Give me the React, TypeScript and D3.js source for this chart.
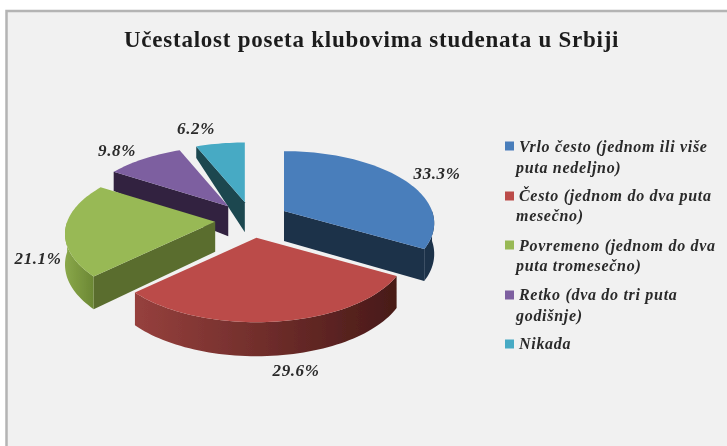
import React from "react";
import * as d3 from "d3";

const WIDTH = 727;
const HEIGHT = 446;
const TITLE = "Učestalost poseta klubovima studenata u Srbiji";
const shares = [33.3, 29.6, 21.1, 9.8, 6.2];
const shareLabels = ["33.3%", "29.6%", "21.1%", "9.8%", "6.2%"];
const legendLines = [
  ["Vrlo često (jednom ili više", "puta nedeljno)"],
  ["Često (jednom do dva puta", "mesečno)"],
  ["Povremeno (jednom do dva", "puta tromesečno)"],
  ["Retko (dva do tri puta", "godišnje)"],
  ["Nikada"],
];
const topColors = ["#4a7ebb", "#bb4c49", "#98b954", "#7d5fa0", "#46aac4"];
const faceColors = ["#1b3049", "#4a1a18", "#5a6d2f", "#322440", "#1a4650"];
const wallFrom = ["#1b3049", "#96403d", "#8aa84a", "#322440", "#1a4650"];
const wallTo = ["#1b3049", "#481a18", "#6b8734", "#322440", "#1a4650"];
const labelAnchors = [
  [437, 179],
  [296, 376],
  [38, 264],
  [117, 156],
  [196, 134],
];
const legendBaselines = [[152, 173], [201, 221], [251, 271], [300, 321], [349]];
const legendMarkCentres = [146, 196, 245, 295, 344];

const cx = 252;
const cy = 220;
const spreadX = 37;
const spreadY = 18;
const radiusX = 148;
const radiusY = 70;
const persp = 0.17;
const depth = d3.scaleLinear().domain([-1, 0, 1]).range([10, 30, 34]);
const pie = d3.pie<number>().sort(null).value((d) => d);
const line = d3.line<[number, number]>();

const arcs = pie(shares);
const apexOf = (mid: number): [number, number] => [
  cx + spreadX * Math.sin(mid),
  cy - spreadY * Math.cos(mid),
];
const rim = (apex: [number, number], a: number, down: boolean): [number, number] => {
  const z = -Math.cos(a);
  const s = 1 / (1 - persp * z);
  return [
    apex[0] + radiusX * Math.sin(a) * s,
    apex[1] + radiusY * z * s + (down ? depth(z) : 0),
  ];
};
const sweep = (a0: number, a1: number) => {
  const n = Math.max(2, Math.ceil((a1 - a0) / 0.03));
  return d3.range(n + 1).map((i) => a0 + ((a1 - a0) * i) / n);
};
const PI = Math.PI;

const slices = arcs.map((arc, i) => {
  const mid = (arc.startAngle + arc.endAngle) / 2;
  const apex = apexOf(mid);
  const apexLow: [number, number] = [apex[0], apex[1] + depth(0)];
  const top = [apex, ...sweep(arc.startAngle, arc.endAngle).map((a) => rim(apex, a, false))] as [number, number][];
  const faces: string[] = [];
  const face = (a: number) =>
    line([apex, rim(apex, a, false), rim(apex, a, true), apexLow, apex]) + "Z";
  if (Math.sin(arc.startAngle) < -0.01) faces.push(face(arc.startAngle));
  if (Math.sin(arc.endAngle) > 0.01) faces.push(face(arc.endAngle));
  const w0 = Math.max(arc.startAngle, PI / 2);
  const w1 = Math.min(arc.endAngle, (3 * PI) / 2);
  let wall: string | null = null;
  let wallXs: number[] = [];
  if (w1 > w0) {
    const as = sweep(w0, w1);
    const upper = as.map((a) => rim(apex, a, false));
    const lower = as.map((a) => rim(apex, a, true)).reverse();
    wall = line([...upper, ...lower]) + "Z";
    wallXs = upper.map((p) => p[0]);
  }
  return { i, top: line(top) + "Z", faces, wall, wallXs };
});
const paintOrder = [4, 3, 0, 2, 1];

export default function App() {
  return (
    <svg
      width={WIDTH}
      height={HEIGHT}
      viewBox={`0 0 ${WIDTH} ${HEIGHT}`}
      style={{ position: "fixed", left: 0, top: 0, display: "block", background: "#fff" }}
    >
      <defs>
        <filter id="soft" x="-2%" y="-2%" width="104%" height="104%">
          <feGaussianBlur stdDeviation="0.7" />
        </filter>
        <filter id="softText" x="-5%" y="-20%" width="110%" height="140%">
          <feGaussianBlur stdDeviation="0.55" />
        </filter>
        {slices.map((s) =>
          s.wall ? (
            <linearGradient
              key={s.i}
              id={`wall${s.i}`}
              gradientUnits="userSpaceOnUse"
              x1={d3.min(s.wallXs)}
              x2={d3.max(s.wallXs)}
              y1={0}
              y2={0}
            >
              <stop offset="0" stopColor={wallFrom[s.i]} />
              <stop offset="1" stopColor={wallTo[s.i]} />
            </linearGradient>
          ) : null
        )}
      </defs>
      <rect x={6.5} y={11} width={WIDTH} height={HEIGHT} fill="#f1f1f1" stroke="#b4b4b4" strokeWidth={2.5} />
      <g filter="url(#soft)">
        {paintOrder.map((i) => {
          const s = slices[i];
          return (
            <g key={i}>
              {s.faces.map((d, k) => (
                <path key={k} d={d} fill={faceColors[i]} />
              ))}
              {s.wall ? <path d={s.wall} fill={`url(#wall${i})`} /> : null}
              <path d={s.top} fill={topColors[i]} />
            </g>
          );
        })}
      </g>
      <g filter="url(#softText)" fontFamily="'Liberation Serif', serif" fill="#1c1c1c">
        <text x={124} y={47} fontSize={23} fontWeight="bold" letterSpacing={0.75}>
          {TITLE}
        </text>
        <g fontSize={17} fontWeight="bold" fontStyle="italic" textAnchor="middle" fill="#2a2a2a" letterSpacing={0.6}>
          {shareLabels.map((t, i) => (
            <text key={t} x={labelAnchors[i][0]} y={labelAnchors[i][1]}>
              {t}
            </text>
          ))}
        </g>
        <g fontSize={16} fontWeight="bold" fontStyle="italic" fill="#2a2a2a" letterSpacing={0.7}>
          {legendLines.map((lines, i) =>
            lines.map((t, k) => (
              <text key={t} x={k === 0 ? 519 : 516} y={legendBaselines[i][k]}>
                {t}
              </text>
            ))
          )}
        </g>
      </g>
      <g filter="url(#soft)">
        {legendLines.map((_, i) => (
          <rect
            key={i}
            x={505}
            y={legendMarkCentres[i] - 4.5}
            width={9}
            height={9}
            fill={topColors[i]}
          />
        ))}
      </g>
    </svg>
  );
}
